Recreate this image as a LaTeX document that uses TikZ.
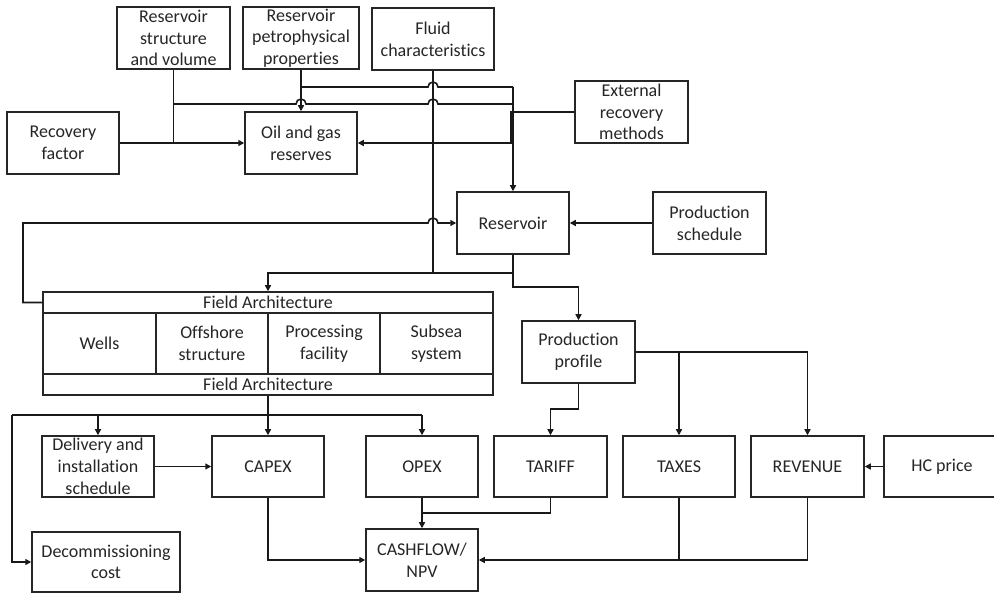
\documentclass[tikz,border=0pt]{standalone}
\usepackage{fontspec}
\setmainfont{Carlito}[Ligatures=NoCommon]
\usetikzlibrary{arrows.meta}
\begin{document}
\begin{tikzpicture}[x=1pt,y=-1pt,
  box/.style={draw=black!85, line width=1.5pt, align=center, inner sep=0pt,
    text=black!85, font=\fontsize{18}{21.7}\selectfont},
  std/.style={box, minimum width=112pt, minimum height=62pt},
  link/.style={draw=black!90, line width=1.6pt},
  arr/.style={link, -{Triangle[length=6pt,width=6pt]}}
]
\fill[white] (0,0) rectangle (994,593);
\clip (0,0) rectangle (994,593);

% ---- input blocks ----
\node[std, minimum width=113pt] (rsv) at (173.5,38) {Reservoir\\structure\\and volume};
\node[std, minimum width=116pt] (rpp) at (301,38) {Reservoir\\petrophysical\\properties};
\node[std, minimum width=122pt] (fluid) at (433,39) {Fluid\\characteristics};
\node[std, minimum width=113pt] (ext) at (631.5,112) {External\\recovery\\methods};
\node[std] (rf) at (63,143) {Recovery\\factor};
\node[std] (oag) at (301,143) {Oil and gas\\reserves};
\node[std] (res) at (513,223) {Reservoir};
\node[std, minimum width=113pt] (ps) at (709.5,223) {Production\\schedule};
\node[std, minimum width=113pt] (pp) at (578.5,352) {Production\\profile};

% ---- field architecture block ----
\node[box, minimum width=450pt, minimum height=21pt] (fatop) at (268,302.5) {Field Architecture};
\node[box, minimum width=113pt, minimum height=61pt] (wells) at (99.5,343.5) {Wells};
\node[box, minimum width=112pt, minimum height=61pt] (offs) at (212,343.5) {Offshore\\structure};
\node[box, minimum width=112pt, minimum height=61pt] (proc) at (324,343.5) {Processing\\facility};
\node[box, minimum width=113pt, minimum height=61pt] (subs) at (436.5,343.5) {Subsea\\system};
\node[box, minimum width=450pt, minimum height=21pt] (fabot) at (268,384.5) {Field Architecture};

% ---- cost and revenue blocks ----
\node[std, minimum height=61pt] (del) at (98,466.5) {Delivery and\\installation\\schedule};
\node[std, minimum height=61pt] (capex) at (268,466.5) {CAPEX};
\node[std, minimum height=61pt] (opex) at (422,466.5) {OPEX};
\node[std, minimum width=113pt, minimum height=61pt] (tariff) at (550.5,466.5) {TARIFF};
\node[std, minimum height=61pt] (taxes) at (679,466.5) {TAXES};
\node[std, minimum width=113pt, minimum height=61pt] (revenue) at (807.5,466.5) {REVENUE};
\node[std, minimum width=116pt, minimum height=61pt] (hc) at (942,466.5) {HC price};
\node[std, minimum width=148pt, minimum height=60pt] (decom) at (106,562) {Decommissioning\\cost};
\node[std] (cash) at (422,560) {CASHFLOW/\\NPV};

% ---- junction points ----
\coordinate (k1) at (173.5,104);
\coordinate (k2) at (301,87);
\coordinate (c1) at (301,104);
\coordinate (c2) at (433,104);
\coordinate (c3) at (433,87);
\coordinate (c4) at (433,223);
\coordinate (t1) at (513,104);
\coordinate (t2) at (513,87);
\coordinate (e1) at (511,112);
\coordinate (h1) at (513,273);
\coordinate (r1) at (513,287);
\coordinate (l1) at (23,302.5);
\coordinate (l2) at (23,223);
\coordinate (b0) at (12,415);
\coordinate (b1) at (268,415);
\coordinate (b2) at (422,415);
\coordinate (m2) at (550.5,513);
\coordinate (p1) at (578.5,409);

% ---- reserves ----
\draw[arr] (rf) -- (oag);
\draw[link] (rsv.south) -- (rsv.south |- rf.east);
\draw[arr] (rpp) -- (oag);
\draw[link] (k1) -- ([xshift=-5pt]c1) arc[start angle=180,end angle=0,radius=5pt]
  -- ([xshift=-5pt]c2) arc[start angle=180,end angle=0,radius=5pt] -- (t1);
\draw[link] (k2) -- ([xshift=-5pt]c3) arc[start angle=180,end angle=0,radius=5pt] -- (t2);
\draw[arr] (t2) -- (res.north);
\draw[arr] (ext.west) -- (e1) -- (e1 |- oag.east) -- (oag.east);

% ---- reservoir ----
\draw[link] (fluid.south) -- (fluid.south |- h1);
\draw[arr] (ps) -- (res);
\draw[arr] (fatop.west) -- (l1) -- (l2) -- ([xshift=-5pt]c4)
  arc[start angle=180,end angle=0,radius=5pt] -- (res.west);
\draw[arr] (res.south) -- (r1) -- (r1 -| pp.north) -- (pp.north);
\draw[arr] (h1) -- (h1 -| fatop.north) -- (fatop.north);

% ---- field architecture outputs ----
\draw[link] (fabot.south) -- (b1);
\draw[link] (b0) -- (b2);
\draw[arr] (b0) -- (b0 |- decom.west) -- (decom.west);
\draw[arr] (del.north |- b1) -- (del.north);
\draw[arr] (b1) -- (capex.north);
\draw[arr] (b2) -- (opex.north);
\draw[arr] (del) -- (capex);

% ---- cash flow ----
\draw[arr] (capex.south) -- (capex.south |- cash.west) -- (cash.west);
\draw[arr] (opex) -- (cash);
\draw[link] (tariff.south) -- (m2) -- (m2 -| cash.north);
\draw[arr] (pp.south) -- (p1) -- (p1 -| tariff.north) -- (tariff.north);
\draw[arr] (pp.east) -- (pp.east -| revenue.north) -- (revenue.north);
\draw[arr] (pp.east -| taxes.north) -- (taxes.north);
\draw[arr] (hc) -- (revenue);
\draw[link] (taxes.south) -- (taxes.south |- cash.east);
\draw[arr] (revenue.south) -- (revenue.south |- cash.east) -- (cash.east);
\end{tikzpicture}
\end{document}
